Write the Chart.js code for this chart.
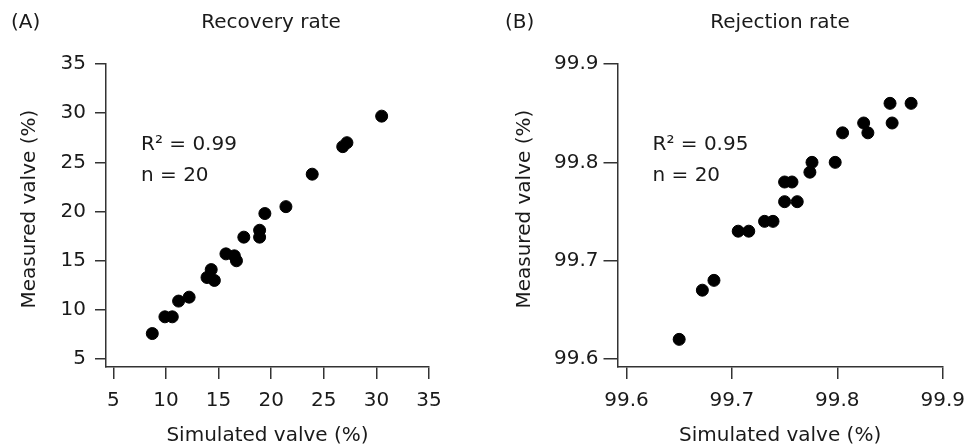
<!DOCTYPE html>
<html>
<head>
<meta charset="utf-8">
<script src="https://cdn.jsdelivr.net/npm/chart.js@4.4.1/dist/chart.umd.min.js"></script>
<style>
  body { margin: 0; background: #fff; overflow: hidden; }
  #wrap { position: relative; width: 965px; height: 448px; overflow: hidden; font-family: "DejaVu Sans", sans-serif; color: #1a1a1a; }
  canvas { position: absolute; top: 0; }
  .lbl { position: absolute; font-size: 20px; line-height: 20px; white-space: nowrap; }
  .ttl { width: 300px; text-align: center; }
</style>
</head>
<body>
<div id="wrap">
  <canvas id="chartA" style="left:0px" width="482" height="448"></canvas>
  <canvas id="chartB" style="left:482px" width="493" height="448"></canvas>
  <div class="lbl" style="left:11px; top:10.5px">(A)</div>
  <div class="lbl ttl" style="left:121px; top:10.5px">Recovery rate</div>
  <div class="lbl" style="left:505px; top:10.5px">(B)</div>
  <div class="lbl ttl" style="left:630px; top:10.5px">Rejection rate</div>
</div>
<script>
// panel A: recovery rate
const recoverySim = [8.7, 9.9, 10.6, 11.2, 12.2, 13.9, 14.3, 14.6, 15.7, 16.5, 16.7, 17.4, 18.9, 18.9, 19.4, 21.4, 23.9, 26.8, 27.2, 30.5];
const recoveryMeas = [7.6, 9.3, 9.3, 10.9, 11.3, 13.3, 14.1, 13.0, 15.7, 15.5, 15.0, 17.4, 18.1, 17.4, 19.8, 20.5, 23.8, 26.6, 27.0, 29.7];
const recoveryTicks = [5, 10, 15, 20, 25, 30, 35];
const recoveryNote = ["R\u00b2 = 0.99", "n = 20"];

// panel B: rejection rate
const rejectionSim = [99.650, 99.672, 99.683, 99.706, 99.716, 99.731, 99.739, 99.750, 99.762, 99.750, 99.757, 99.774, 99.776, 99.798, 99.805, 99.825, 99.829, 99.850, 99.852, 99.870];
const rejectionMeas = [99.62, 99.67, 99.68, 99.73, 99.73, 99.74, 99.74, 99.76, 99.76, 99.78, 99.78, 99.79, 99.80, 99.80, 99.83, 99.84, 99.83, 99.86, 99.84, 99.86];
const rejectionTicks = [99.6, 99.7, 99.8, 99.9];
const rejectionNote = ["R\u00b2 = 0.95", "n = 20"];

const xTitle = "Simulated valve (%)";
// two leading spaces nudge the rotated title up a little, like the original
const yTitle = "  Measured valve (%)";

Chart.defaults.font.family = "DejaVu Sans";
Chart.defaults.font.size = 20;
Chart.defaults.color = "#1a1a1a";

// writes the R² / n lines in the upper left of the plot area
const notePlugin = {
    id: "note",
    afterDatasetsDraw(chart, args, opts) {
        const c = chart.ctx;
        const area = chart.chartArea;
        c.save();
        c.fillStyle = "#1a1a1a";
        c.font = "20px 'DejaVu Sans'";
        c.textBaseline = "alphabetic";
        c.fillText(opts.lines[0], area.left + 35, 149.5);
        c.fillText(opts.lines[1], area.left + 35, 180.5);
        c.restore();
    }
};

function makePanel(id, xs, ys, ticks, note, p) {
    const points = xs.map((x, i) => ({ x: x, y: ys[i] }));
    const fmt = v => p.decimals ? Number(v).toFixed(p.decimals) : String(v);

    return new Chart(document.getElementById(id), {
        type: "scatter",
        data: {
            datasets: [{
                data: points,
                backgroundColor: "#000",
                borderColor: "#000",
                pointRadius: 6,
                pointHoverRadius: 6
            }]
        },
        plugins: [notePlugin],
        options: {
            responsive: false,
            animation: false,
            layout: { padding: { left: 0, top: 64, right: p.padRight, bottom: 0 } },
            plugins: {
                legend: { display: false },
                tooltip: { enabled: false },
                note: { lines: note }
            },
            scales: {
                x: {
                    type: "linear",
                    min: p.xMin,
                    max: ticks[ticks.length - 1],
                    afterBuildTicks: s => { s.ticks = ticks.map(v => ({ value: v })); },
                    afterFit: s => { s.height = 81; },
                    grid: { drawOnChartArea: false, drawTicks: true, tickLength: 12, color: "#333", lineWidth: 1.5 },
                    border: { display: true, color: "#333", width: 1.5 },
                    ticks: { padding: 10, callback: fmt, maxRotation: 0, autoSkip: false },
                    title: { display: true, text: xTitle, padding: { top: 0, bottom: 0.5 } }
                },
                y: {
                    type: "linear",
                    min: p.yMin,
                    max: ticks[ticks.length - 1],
                    afterBuildTicks: s => { s.ticks = ticks.map(v => ({ value: v })); },
                    afterFit: s => { s.width = p.yWidth; },
                    grid: { drawOnChartArea: false, drawTicks: true, tickLength: p.yTick, color: "#333", lineWidth: 1.5 },
                    border: { display: true, color: "#333", width: 1.5 },
                    ticks: { padding: p.yPad, callback: fmt, autoSkip: false },
                    title: { display: true, text: yTitle, padding: { top: p.yTitlePad, bottom: 0 } }
                }
            }
        }
    });
}

makePanel("chartA", recoverySim, recoveryMeas, recoveryTicks, recoveryNote,
    { xMin: 4.3, yMin: 4.2, padRight: 53, yWidth: 106, yTick: 11, yPad: 9, yTitlePad: 18, decimals: 0 });

// the right edge of panel B is set by the last tick label (half width + padding)
makePanel("chartB", rejectionSim, rejectionMeas, rejectionTicks, rejectionNote,
    { xMin: 99.5915, yMin: 99.5919, padRight: 0, yWidth: 135.5, yTick: 14, yPad: 5, yTitlePad: 31, decimals: 1 });
</script>
</body>
</html>
